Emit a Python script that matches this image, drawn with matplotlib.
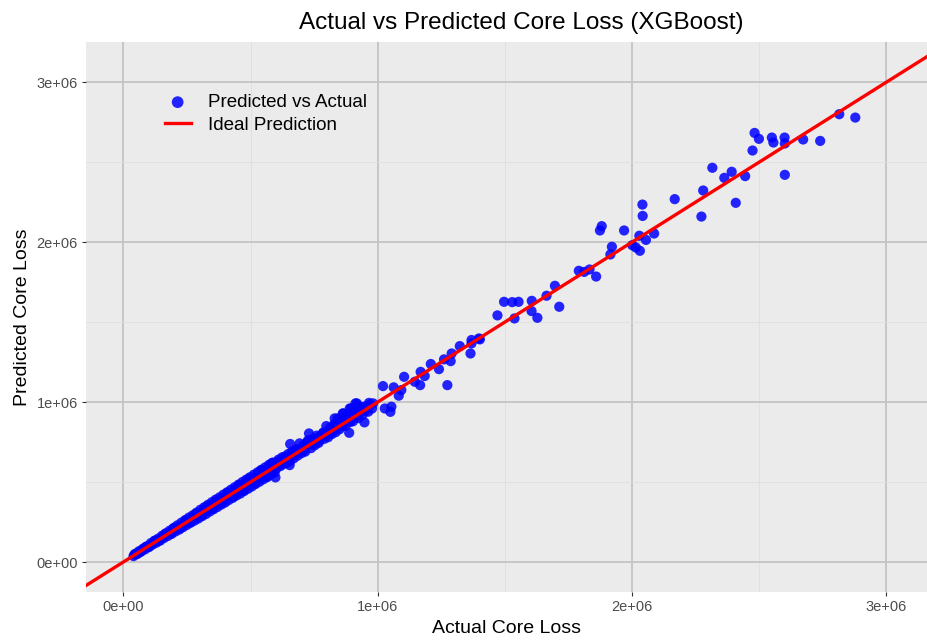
import numpy as np
import matplotlib
matplotlib.use('Agg')
import matplotlib.pyplot as plt
from matplotlib.ticker import MultipleLocator, FuncFormatter

# values, in units of 1e6
actual = [
    0.040, 0.048, 0.055, 0.062, 0.070, 0.078, 0.085, 0.092, 0.100, 0.108,
    0.115, 0.122, 0.130, 0.137, 0.145, 0.152, 0.160, 0.167, 0.175, 0.182,
    0.190, 0.197, 0.205, 0.212, 0.220, 0.228, 0.235, 0.243, 0.250, 0.258,
    0.265, 0.273, 0.280, 0.288, 0.295, 0.303, 0.310, 0.318, 0.325, 0.333,
    0.340, 0.348, 0.355, 0.363, 0.370, 0.378, 0.385, 0.393, 0.400, 0.408,
    0.415, 0.423, 0.430, 0.438, 0.445, 0.453, 0.460, 0.468, 0.475, 0.483,
    0.490, 0.498, 0.505, 0.513, 0.520, 0.528, 0.535, 0.543, 0.550, 0.558,
    0.565, 0.573, 0.580, 0.588, 0.595,
    0.044, 0.066, 0.088, 0.104, 0.126, 0.141, 0.163, 0.186, 0.201, 0.224,
    0.246, 0.262, 0.284, 0.306, 0.329, 0.351, 0.366, 0.389, 0.411, 0.434,
    0.456, 0.471, 0.494, 0.516, 0.539, 0.561, 0.584,
    0.051, 0.074, 0.096, 0.119, 0.133, 0.156, 0.178, 0.193, 0.216, 0.239,
    0.254, 0.269, 0.291, 0.314, 0.336, 0.358, 0.381, 0.396, 0.419, 0.441,
    0.464, 0.479, 0.501, 0.524, 0.546, 0.569, 0.591,
    0.602, 0.610, 0.618, 0.625, 0.633, 0.640, 0.648, 0.655, 0.663, 0.670,
    0.678, 0.685, 0.693, 0.700, 0.708, 0.715, 0.723, 0.730, 0.738, 0.745,
    0.753, 0.760, 0.768, 0.775, 0.783, 0.790, 0.798, 0.805, 0.813, 0.820,
    0.828, 0.835, 0.843, 0.850, 0.858, 0.865, 0.873, 0.880, 0.888, 0.895,
    0.903, 0.910, 0.918, 0.925, 0.933, 0.940, 0.948, 0.955, 0.963, 0.970,
    0.978, 0.982, 0.598, 0.654, 0.656, 0.772, 0.831, 0.863, 0.890, 0.913,
    0.606, 0.621, 0.636, 0.651, 0.666, 0.681, 0.696, 0.711, 0.726, 0.741,
    0.756, 0.771, 0.786, 0.801, 0.816, 0.831, 0.846, 0.861, 0.876, 0.891,
    0.906, 0.921, 0.936, 0.951, 0.966,
    1.021, 1.028, 1.050, 1.054, 1.063, 1.083, 1.093, 1.104, 1.146, 1.167,
    1.169, 1.185, 1.209, 1.241, 1.261, 1.274, 1.287, 1.291, 1.323, 1.365,
    1.369, 1.402, 1.398, 1.369, 1.471, 1.497, 1.529, 1.538, 1.554, 1.605,
    1.606, 1.628, 1.664, 1.697, 1.714, 1.791, 1.812, 1.833, 1.859, 1.874,
    1.881, 1.915, 1.921, 1.969, 2.001, 2.015, 2.031, 2.029, 2.042, 2.041,
    2.055, 2.087, 2.168, 2.273, 2.280, 2.316, 2.363, 2.392, 2.408, 2.445,
    2.474, 2.482, 2.499, 2.550, 2.556, 2.600, 2.601, 2.601, 2.673, 2.740,
    2.815, 2.878,
]
predicted = [
    0.037, 0.052, 0.050, 0.068, 0.066, 0.084, 0.079, 0.098, 0.093, 0.118,
    0.109, 0.133, 0.121, 0.146, 0.134, 0.164, 0.150, 0.180, 0.163, 0.196,
    0.176, 0.212, 0.191, 0.229, 0.203, 0.246, 0.218, 0.262, 0.232, 0.278,
    0.246, 0.292, 0.259, 0.309, 0.272, 0.327, 0.287, 0.342, 0.300, 0.358,
    0.316, 0.374, 0.330, 0.390, 0.344, 0.404, 0.359, 0.421, 0.372, 0.436,
    0.388, 0.452, 0.401, 0.468, 0.416, 0.484, 0.428, 0.500, 0.444, 0.515,
    0.458, 0.530, 0.472, 0.546, 0.488, 0.561, 0.502, 0.577, 0.517, 0.592,
    0.530, 0.608, 0.546, 0.622, 0.560,
    0.047, 0.062, 0.093, 0.099, 0.133, 0.135, 0.172, 0.178, 0.213, 0.212,
    0.261, 0.248, 0.300, 0.290, 0.348, 0.333, 0.386, 0.368, 0.433, 0.410,
    0.481, 0.446, 0.521, 0.489, 0.570, 0.532, 0.618,
    0.051, 0.075, 0.095, 0.120, 0.132, 0.158, 0.176, 0.196, 0.213, 0.242,
    0.250, 0.274, 0.287, 0.319, 0.331, 0.364, 0.375, 0.403, 0.412, 0.449,
    0.455, 0.489, 0.492, 0.535, 0.536, 0.580, 0.580,
    0.585, 0.640, 0.600, 0.655, 0.615, 0.620, 0.675, 0.630, 0.690, 0.648,
    0.700, 0.665, 0.742, 0.680, 0.730, 0.690, 0.750, 0.804, 0.712, 0.770,
    0.730, 0.790, 0.745, 0.783, 0.800, 0.770, 0.850, 0.780, 0.840, 0.800,
    0.860, 0.812, 0.898, 0.830, 0.880, 0.929, 0.850, 0.900, 0.808, 0.960,
    0.880, 0.940, 0.992, 0.900, 0.955, 0.920, 0.873, 0.975, 0.940, 0.985,
    0.960, 0.992, 0.529, 0.606, 0.738, 0.783, 0.898, 0.929, 0.960, 0.992,
    0.625, 0.610, 0.660, 0.640, 0.680, 0.705, 0.690, 0.700, 0.760, 0.735,
    0.770, 0.760, 0.810, 0.795, 0.805, 0.850, 0.865, 0.850, 0.905, 0.875,
    0.925, 0.915, 0.970, 0.945, 0.995,
    1.100, 0.960, 0.939, 0.971, 1.092, 1.040, 1.075, 1.158, 1.127, 1.106,
    1.189, 1.163, 1.238, 1.206, 1.267, 1.106, 1.256, 1.304, 1.350, 1.304,
    1.367, 1.392, 1.398, 1.388, 1.542, 1.627, 1.625, 1.523, 1.627, 1.569,
    1.633, 1.527, 1.665, 1.727, 1.596, 1.821, 1.814, 1.829, 1.785, 2.073,
    2.100, 1.923, 1.971, 2.073, 1.981, 1.967, 1.946, 2.040, 2.164, 2.235,
    2.014, 2.054, 2.269, 2.160, 2.323, 2.465, 2.402, 2.440, 2.246, 2.413,
    2.573, 2.683, 2.646, 2.654, 2.623, 2.654, 2.617, 2.421, 2.642, 2.633,
    2.800, 2.779,
]

x_vals = np.array(actual) * 1e6
y_vals = np.array(predicted) * 1e6

plt.rcParams['font.family'] = ['Liberation Sans', 'DejaVu Sans']

fig = plt.figure(figsize=(9.27, 6.4), dpi=100)
ax = fig.add_axes([0.093, 0.075, 0.907, 0.859])

ax.set_facecolor('#ebebeb')
for spine in ax.spines.values():
    spine.set_visible(False)

ax.xaxis.set_major_locator(MultipleLocator(1e6))
ax.xaxis.set_minor_locator(MultipleLocator(5e5))
ax.yaxis.set_major_locator(MultipleLocator(1e6))
ax.yaxis.set_minor_locator(MultipleLocator(5e5))
ax.grid(True, which='major', color='#c4c4c4', linewidth=1.3)
ax.grid(True, which='minor', color='#dedede', linewidth=0.6)
ax.set_axisbelow(True)

ax.scatter(x_vals, y_vals, s=54, color='#0000ff', alpha=0.85, edgecolors='none',
           label='Predicted vs Actual', zorder=3)
ax.axline((0, 0), slope=1, color='#ff0000', linewidth=2.4, label='Ideal Prediction', zorder=4)

ax.set_xlim(-0.146e6, 3.16e6)
ax.set_ylim(-0.1875e6, 3.25e6)

fmt = FuncFormatter(lambda v, p: '%de+%02d' % (round(v / 1e6), 6) if v != 0 else '0e+00')
ax.xaxis.set_major_formatter(fmt)
ax.yaxis.set_major_formatter(fmt)
ax.tick_params(which='major', length=3, color='#333333', labelcolor='#4d4d4d',
               labelsize=10.5, width=0.8, pad=3)
ax.tick_params(which='minor', length=0)

ax.set_xlabel('Actual Core Loss', fontsize=14, labelpad=4)
ax.set_ylabel('Predicted Core Loss', fontsize=14, labelpad=4)
fig.text(0.562, 0.955, 'Actual vs Predicted Core Loss (XGBoost)', fontsize=17.5,
         ha='center', va='baseline')

leg = ax.legend(loc='upper left', bbox_to_anchor=(0.082, 0.923), frameon=False,
                prop={'size': 13.5}, handlelength=1.4, borderpad=0,
                handletextpad=0.9, labelspacing=0.3, markerscale=1.15)

plt.savefig('out.png', dpi=100)
